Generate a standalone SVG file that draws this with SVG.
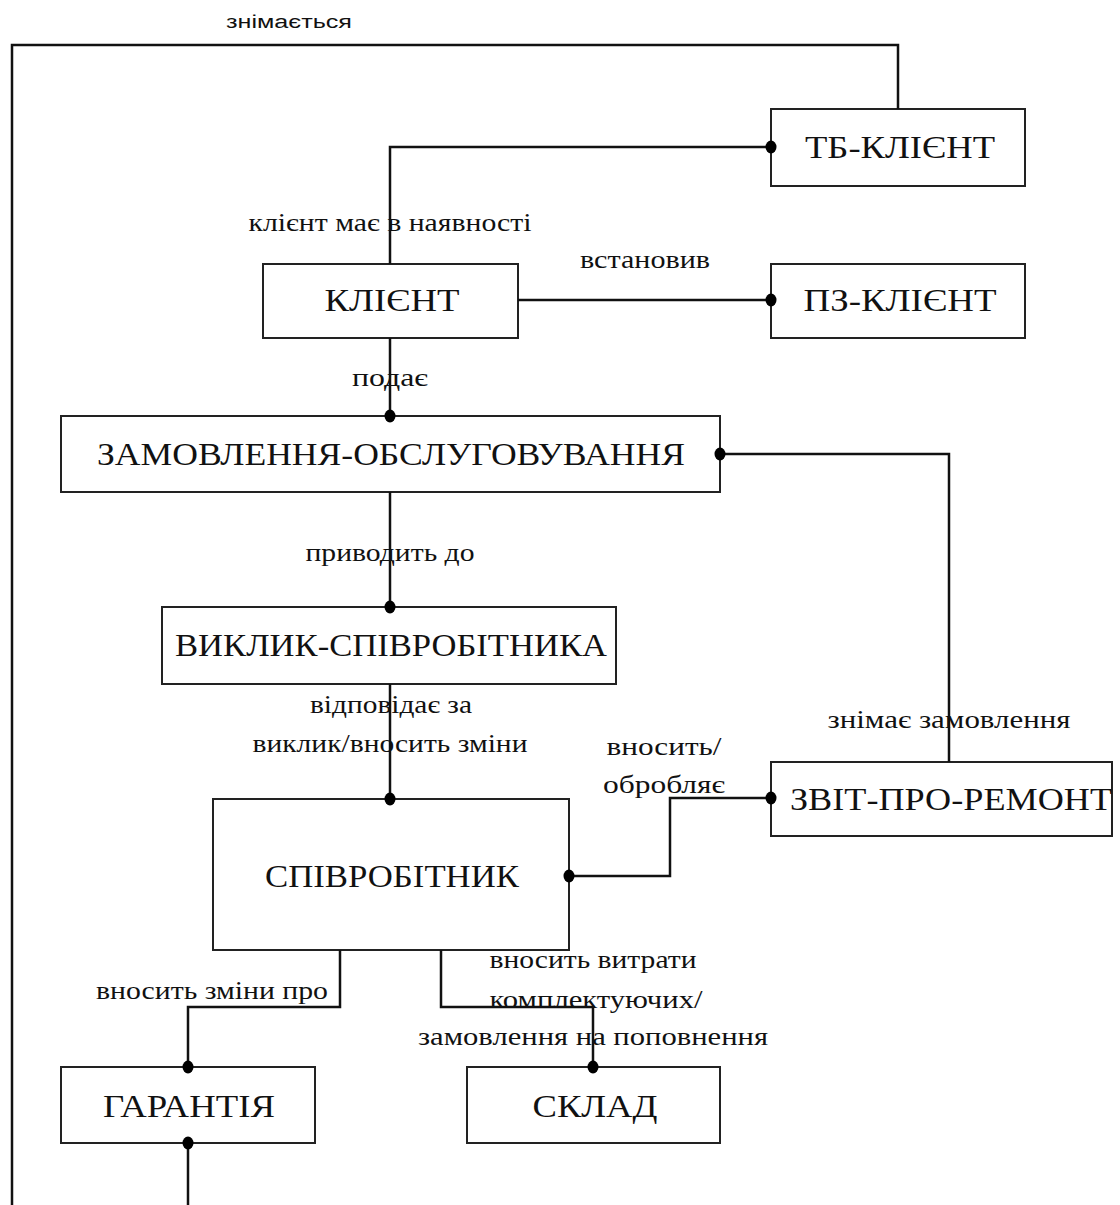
<svg xmlns="http://www.w3.org/2000/svg" width="1120" height="1205" viewBox="0 0 1120 1205">
<style>
.box{fill:#fff;stroke:#222;stroke-width:2}
.nt{font-family:"Liberation Serif","Times New Roman","DejaVu Serif",serif;font-size:31px;fill:#111;text-anchor:middle}
.lb{font-family:"Liberation Serif","Times New Roman","DejaVu Serif",serif;font-size:25px;fill:#111;text-anchor:middle}
.ls{font-family:"Liberation Sans","DejaVu Sans",sans-serif;font-size:18px;fill:#111;text-anchor:middle}
.ln{fill:none;stroke:#111;stroke-width:2.5}
.dot{fill:#000}
</style>
<rect width="1120" height="1205" fill="#fff"/>
<g id="tb-klient"><rect class="box" x="771" y="109" width="254" height="77"/><text class="nt" x="900" y="158" textLength="190" lengthAdjust="spacingAndGlyphs">ТБ-КЛІЄНТ</text></g>
<g id="klient"><rect class="box" x="263" y="264" width="255" height="74"/><text class="nt" x="392" y="311" textLength="135" lengthAdjust="spacingAndGlyphs">КЛІЄНТ</text></g>
<g id="pz-klient"><rect class="box" x="771" y="264" width="254" height="74"/><text class="nt" x="900" y="311" textLength="193" lengthAdjust="spacingAndGlyphs">ПЗ-КЛІЄНТ</text></g>
<g id="zamovlennia"><rect class="box" x="61" y="416" width="659" height="76"/><text class="nt" x="391" y="465" textLength="588" lengthAdjust="spacingAndGlyphs">ЗАМОВЛЕННЯ-ОБСЛУГОВУВАННЯ</text></g>
<g id="vyklyk"><rect class="box" x="162" y="607" width="454" height="77"/><text class="nt" x="391" y="656" textLength="432" lengthAdjust="spacingAndGlyphs">ВИКЛИК-СПІВРОБІТНИКА</text></g>
<g id="spivrobitnyk"><rect class="box" x="213" y="799" width="356" height="151"/><text class="nt" x="392" y="887" textLength="254" lengthAdjust="spacingAndGlyphs">СПІВРОБІТНИК</text></g>
<g id="zvit"><rect class="box" x="771" y="762" width="341" height="74"/><text class="nt" x="951" y="810" textLength="322" lengthAdjust="spacingAndGlyphs">ЗВІТ-ПРО-РЕМОНТ</text></g>
<g id="garantiia"><rect class="box" x="61" y="1067" width="254" height="76"/><text class="nt" x="189" y="1117" textLength="172" lengthAdjust="spacingAndGlyphs">ГАРАНТІЯ</text></g>
<g id="sklad"><rect class="box" x="467" y="1067" width="253" height="76"/><text class="nt" x="595" y="1117" textLength="125" lengthAdjust="spacingAndGlyphs">СКЛАД</text></g>
<g id="connectors">
<path class="ln" d="M898,109 V45 H12 V1205"/>
<path class="ln" d="M771,147 H390 V264"/>
<path class="ln" d="M518,300 H771"/>
<path class="ln" d="M390,338 V416"/>
<path class="ln" d="M720,454 H949 V762"/>
<path class="ln" d="M390,492 V607"/>
<path class="ln" d="M390,684 V799"/>
<path class="ln" d="M569,876 H670 V798 H771"/>
<path class="ln" d="M340,950 V1007 H188 V1067"/>
<path class="ln" d="M441,950 V1007 H593 V1067"/>
<path class="ln" d="M188,1143 V1205"/>
<ellipse class="dot" cx="771" cy="147" rx="5.5" ry="6.5"/>
<ellipse class="dot" cx="771" cy="300" rx="5.5" ry="6.5"/>
<ellipse class="dot" cx="390" cy="416" rx="5.5" ry="6.5"/>
<ellipse class="dot" cx="720" cy="454" rx="5.5" ry="6.5"/>
<ellipse class="dot" cx="390" cy="607" rx="5.5" ry="6.5"/>
<ellipse class="dot" cx="390" cy="799" rx="5.5" ry="6.5"/>
<ellipse class="dot" cx="569" cy="876" rx="5.5" ry="6.5"/>
<ellipse class="dot" cx="771" cy="798" rx="5.5" ry="6.5"/>
<ellipse class="dot" cx="188" cy="1067" rx="5.5" ry="6.5"/>
<ellipse class="dot" cx="593" cy="1067" rx="5.5" ry="6.5"/>
<ellipse class="dot" cx="188" cy="1143" rx="5.5" ry="6.5"/>
<text class="ls" x="289" y="28" textLength="126" lengthAdjust="spacingAndGlyphs">знімається</text>
<text class="lb" x="390" y="231" textLength="283" lengthAdjust="spacingAndGlyphs">клієнт має в наявності</text>
<text class="lb" x="645" y="268" textLength="130" lengthAdjust="spacingAndGlyphs">встановив</text>
<text class="lb" x="390" y="386" textLength="76" lengthAdjust="spacingAndGlyphs">подає</text>
<text class="lb" x="390" y="561" textLength="169" lengthAdjust="spacingAndGlyphs">приводить до</text>
<text class="lb" x="391" y="713" textLength="162" lengthAdjust="spacingAndGlyphs">відповідає за</text>
<text class="lb" x="390" y="752" textLength="275" lengthAdjust="spacingAndGlyphs">виклик/вносить зміни</text>
<text class="lb" x="664" y="755" textLength="115" lengthAdjust="spacingAndGlyphs">вносить/</text>
<text class="lb" x="664" y="793" textLength="122" lengthAdjust="spacingAndGlyphs">обробляє</text>
<text class="lb" x="949" y="728" textLength="243" lengthAdjust="spacingAndGlyphs">знімає замовлення</text>
<text class="lb" x="212" y="999" textLength="232" lengthAdjust="spacingAndGlyphs">вносить зміни про</text>
<text class="lb" x="593" y="968" textLength="207" lengthAdjust="spacingAndGlyphs">вносить витрати</text>
<text class="lb" x="596" y="1008" textLength="213" lengthAdjust="spacingAndGlyphs">комплектуючих/</text>
<text class="lb" x="593" y="1045" textLength="350" lengthAdjust="spacingAndGlyphs">замовлення на поповнення</text>
</g>
</svg>
